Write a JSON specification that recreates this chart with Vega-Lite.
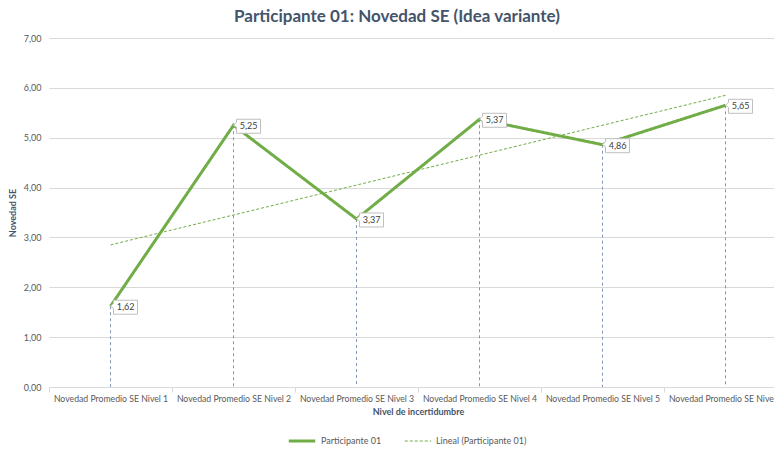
{
  "$schema": "https://vega.github.io/schema/vega-lite/v6.json",
  "width": 738,
  "height": 349,
  "autosize": {"type": "none"},
  "padding": {"left": 49, "top": 38, "right": 0, "bottom": 63},
  "title": {
    "text": "Participante 01: Novedad SE (Idea variante)",
    "font": "Lato",
    "fontSize": 17,
    "fontWeight": "bold",
    "color": "#44546A",
    "anchor": "middle",
    "frame": "group",
    "dx": -21,
    "offset": 8
  },
  "datasets": {
    "main": [
      {"nivel": "Novedad Promedio SE Nivel 1", "serie": "Participante 01", "valor": 1.62, "etiqueta": "1,62"},
      {"nivel": "Novedad Promedio SE Nivel 2", "serie": "Participante 01", "valor": 5.25, "etiqueta": "5,25"},
      {"nivel": "Novedad Promedio SE Nivel 3", "serie": "Participante 01", "valor": 3.37, "etiqueta": "3,37"},
      {"nivel": "Novedad Promedio SE Nivel 4", "serie": "Participante 01", "valor": 5.37, "etiqueta": "5,37"},
      {"nivel": "Novedad Promedio SE Nivel 5", "serie": "Participante 01", "valor": 4.86, "etiqueta": "4,86"},
      {"nivel": "Novedad Promedio SE Nivel 6", "serie": "Participante 01", "valor": 5.65, "etiqueta": "5,65"}
    ],
    "trend": [
      {"nivel": "Novedad Promedio SE Nivel 1", "serie": "Lineal (Participante 01)", "valor": 2.85},
      {"nivel": "Novedad Promedio SE Nivel 6", "serie": "Lineal (Participante 01)", "valor": 5.85}
    ]
  },
  "encoding": {
    "x": {
      "field": "nivel",
      "type": "nominal",
      "sort": null,
      "bandPosition": 0.5,
      "scale": {
        "type": "band",
        "paddingInner": 0,
        "paddingOuter": 0,
        "domain": [
          "Novedad Promedio SE Nivel 1",
          "Novedad Promedio SE Nivel 2",
          "Novedad Promedio SE Nivel 3",
          "Novedad Promedio SE Nivel 4",
          "Novedad Promedio SE Nivel 5",
          "Novedad Promedio SE Nivel 6"
        ]
      },
      "axis": {
        "title": "Nivel de incertidumbre",
        "labelAngle": 0,
        "tickBand": "extent",
        "grid": false,
        "domainColor": "#D9D9D9",
        "tickColor": "#D9D9D9",
        "tickSize": 5,
        "labelFont": "Lato",
        "labelFontSize": 8.7,
        "labelColor": "#595959",
        "labelPadding": 2,
        "titleFont": "Lato",
        "titleFontSize": 9,
        "titleColor": "#44546A",
        "titleFontWeight": "bold",
        "titlePadding": 5
      }
    },
    "y": {
      "field": "valor",
      "type": "quantitative",
      "scale": {"domain": [0, 7], "nice": false},
      "axis": {
        "title": "Novedad SE",
        "values": [0, 1, 2, 3, 4, 5, 6, 7],
        "labelExpr": "replace(format(datum.value, '.2f'), '.', ',')",
        "domain": false,
        "ticks": false,
        "gridColor": "#D9D9D9",
        "labelFont": "Lato",
        "labelFontSize": 9,
        "labelColor": "#595959",
        "labelPadding": 8,
        "titleFont": "Lato",
        "titleFontSize": 9,
        "titleFontWeight": "bold",
        "titleColor": "#44546A",
        "titlePadding": 6
      }
    }
  },
  "layer": [
    {
      "data": {"name": "main"},
      "mark": {"type": "rule", "strokeDash": [3, 3], "color": "#8497B0", "strokeWidth": 1},
      "encoding": {"y2": {"datum": 0}}
    },
    {
      "data": {"name": "trend"},
      "mark": {"type": "line"},
      "encoding": {
        "color": {"field": "serie", "type": "nominal"},
        "strokeDash": {"field": "serie", "type": "nominal"},
        "strokeWidth": {"field": "serie", "type": "nominal"}
      }
    },
    {
      "data": {"name": "main"},
      "mark": {"type": "line"},
      "encoding": {
        "color": {
          "field": "serie",
          "type": "nominal",
          "scale": {"domain": ["Participante 01", "Lineal (Participante 01)"], "range": ["#70AD47", "#70AD47"]},
          "legend": {
            "orient": "none",
            "legendX": 238,
            "legendY": 388,
            "direction": "horizontal",
            "title": null,
            "labelFont": "Lato",
            "labelFontSize": 9,
            "labelColor": "#595959",
            "symbolSize": 700,
            "columnPadding": 20
          }
        },
        "strokeDash": {
          "field": "serie",
          "type": "nominal",
          "scale": {"domain": ["Participante 01", "Lineal (Participante 01)"], "range": [[1, 0], [3, 2]]},
          "legend": {
            "orient": "none",
            "legendX": 238,
            "legendY": 388,
            "direction": "horizontal",
            "title": null,
            "labelFont": "Lato",
            "labelFontSize": 9,
            "labelColor": "#595959",
            "symbolSize": 700,
            "columnPadding": 20
          }
        },
        "strokeWidth": {
          "field": "serie",
          "type": "nominal",
          "scale": {"domain": ["Participante 01", "Lineal (Participante 01)"], "range": [3, 1]},
          "legend": {
            "orient": "none",
            "legendX": 238,
            "legendY": 388,
            "direction": "horizontal",
            "title": null,
            "labelFont": "Lato",
            "labelFontSize": 9,
            "labelColor": "#595959",
            "symbolSize": 700,
            "columnPadding": 20
          }
        }
      }
    },
    {
      "data": {"name": "main"},
      "mark": {
        "type": "point",
        "filled": true,
        "fill": "white",
        "stroke": "#BFBFBF",
        "strokeWidth": 1,
        "opacity": 1,
        "size": 625,
        "shape": "M0,0L0.24,-0.24L0.24,-0.48L2.16,-0.48L2.16,0.64L0.24,0.64L0.24,0.16Z"
      }
    },
    {
      "data": {"name": "main"},
      "mark": {"type": "text", "font": "Lato", "fontSize": 9, "color": "#404040", "align": "center", "baseline": "middle", "dx": 15, "dy": 1},
      "encoding": {"text": {"field": "etiqueta"}}
    }
  ],
  "config": {"view": {"stroke": null}}
}
